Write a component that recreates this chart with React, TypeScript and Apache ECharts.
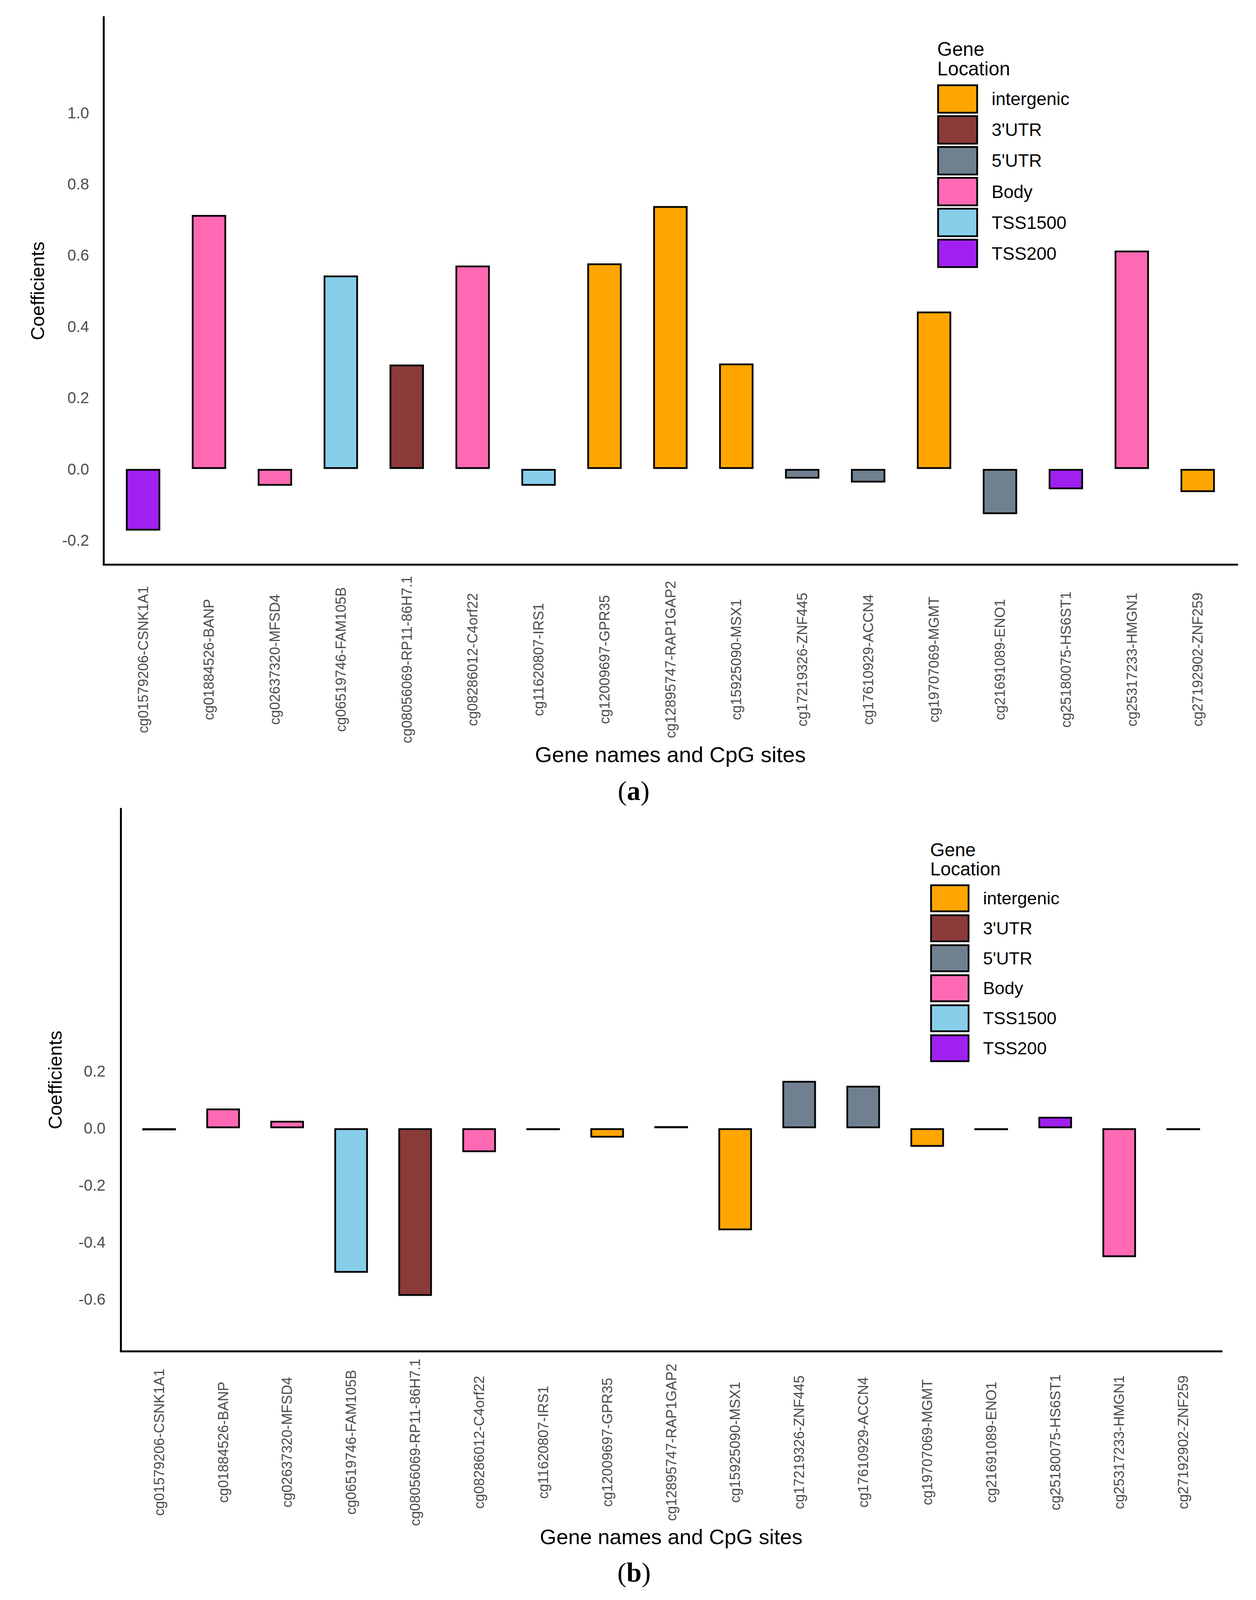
import React, { useEffect, useRef } from "react";
import * as echarts from "echarts";

// ---- data ----
const categories = [
  "cg01579206-CSNK1A1",
  "cg01884526-BANP",
  "cg02637320-MFSD4",
  "cg06519746-FAM105B",
  "cg08056069-RP11-86H7.1",
  "cg08286012-C4orf22",
  "cg11620807-IRS1",
  "cg12009697-GPR35",
  "cg12895747-RAP1GAP2",
  "cg15925090-MSX1",
  "cg17219326-ZNF445",
  "cg17610929-ACCN4",
  "cg19707069-MGMT",
  "cg21691089-ENO1",
  "cg25180075-HS6ST1",
  "cg25317233-HMGN1",
  "cg27192902-ZNF259",
];
const locationOf = [
  "TSS200", "Body", "Body", "TSS1500", "3'UTR", "Body", "TSS1500", "intergenic",
  "intergenic", "intergenic", "5'UTR", "5'UTR", "intergenic", "5'UTR", "TSS200",
  "Body", "intergenic",
];
const locations = ["intergenic", "3'UTR", "5'UTR", "Body", "TSS1500", "TSS200"];
const locationColors = ["#FFA500", "#8B3A3A", "#708090", "#FF69B4", "#87CEEB", "#A020F0"];

const coefA = [
  -0.173, 0.713, -0.047, 0.543, 0.293, 0.571, -0.047, 0.577, 0.738, 0.296,
  -0.027, -0.038, 0.442, -0.127, -0.057, 0.613, -0.065,
];
const coefB = [
  -0.0075, 0.069, 0.026, -0.507, -0.588, -0.084, -0.0025, -0.033, 0.0055, -0.358,
  0.166, 0.149, -0.065, -0.0045, 0.04, -0.452, -0.007,
];
const yTicksA = [-0.2, 0, 0.2, 0.4, 0.6, 0.8, 1.0];
const yTicksB = [-0.6, -0.4, -0.2, 0, 0.2];

const xPositions = categories.map((_, i) => i + 1);

const REF_W = 3215;
const REF_H = 5650;

const FONT = "Liberation Sans, Arial, Helvetica, sans-serif";
const SERIF = "Liberation Serif, Times New Roman, serif";

function buildSeries(coef: number[], panel: number, barWidth: number, barMinHeight: number) {
  return locations.map((loc, k) => ({
    type: "bar",
    name: loc,
    xAxisIndex: panel,
    yAxisIndex: panel,
    barWidth,
    barGap: "-100%",
    barMinHeight,
    itemStyle: { color: locationColors[k], borderColor: "#000", borderWidth: 4.5 },
    emphasis: { disabled: true },
    data: coef
      .map((v, i) => (locationOf[i] === loc ? [i + 1, v] : null))
      .filter((d) => d !== null),
  }));
}

function xAxisDef(gridIndex: number, margin: number, nameGap: number, labelSize: number, nameSize: number) {
  return {
    type: "value",
    gridIndex,
    min: 0.4,
    max: 17.6,
    splitLine: { show: false },
    axisTick: { show: false },
    axisLine: { show: true, onZero: false, lineStyle: { color: "#000", width: 5 } },
    axisLabel: {
      customValues: xPositions,
      formatter: (v: number) => categories[Math.round(v) - 1] ?? "",
      rotate: 90,
      align: "center",
      verticalAlign: "middle",
      margin,
      color: "#4D4D4D",
      fontSize: labelSize,
      fontFamily: FONT,
    },
    name: "Gene names and CpG sites",
    nameLocation: "middle",
    nameGap,
    nameMoveOverlap: false,
    nameTextStyle: { color: "#000", fontSize: nameSize, fontFamily: FONT },
  };
}

function yAxisDef(
  gridIndex: number,
  min: number,
  max: number,
  ticks: number[],
  margin: number,
  nameGap: number,
  labelSize: number,
  nameSize: number
) {
  return {
    type: "value",
    gridIndex,
    min,
    max,
    splitLine: { show: false },
    axisTick: { show: false },
    axisLine: { show: true, onZero: false, lineStyle: { color: "#000", width: 5 } },
    axisLabel: {
      customValues: ticks,
      formatter: (v: number) => v.toFixed(1),
      margin,
      color: "#4D4D4D",
      fontSize: labelSize,
      fontFamily: FONT,
    },
    name: "Coefficients",
    nameLocation: "middle",
    nameGap,
    nameMoveOverlap: false,
    nameTextStyle: { color: "#000", fontSize: nameSize, fontFamily: FONT },
  };
}

export default function App() {
  const ref = useRef<HTMLDivElement>(null);
  useEffect(() => {
    document.body.style.margin = "0";
    if (!ref.current) return;
    // the browser may cap the window height; fit the whole figure into the visible height
    const H = Math.min(window.innerHeight || REF_H, REF_H);
    const k = H / REF_H;
    const Y = (v: number) => v * k;
    const fs = Math.sqrt(k); // horizontal texts
    ref.current.style.height = `${H}px`;

    const chart = echarts.init(ref.current, undefined, { renderer: "svg" });

    // legend title fonts / line heights
    const tA = 58 * fs;
    const tB = 56 * fs;
    const lA = Math.max(tA, Y(68));
    const lB = Math.max(tB, Y(68));

    const xNameA = 66 * fs;
    const xNameB = 64 * fs;
    const yName = 67 * k;

    chart.setOption({
      animation: false,
      backgroundColor: "#fff",
      title: [
        {
          text: "Gene\nLocation",
          left: 2399,
          top: Y(149) - lA / 2 + 0.358 * tA,
          padding: 0,
          textStyle: { fontSize: tA, lineHeight: lA, fontWeight: "normal", color: "#000", fontFamily: FONT },
        },
        {
          text: "Gene\nLocation",
          left: 2381,
          top: Y(2977) - lB / 2 + 0.358 * tB,
          padding: 0,
          textStyle: { fontSize: tB, lineHeight: lB, fontWeight: "normal", color: "#000", fontFamily: FONT },
        },
      ],
      legend: [
        {
          data: locations,
          orient: "vertical",
          left: 2399,
          top: Y(298),
          padding: 0,
          icon: "rect",
          itemWidth: 100,
          itemHeight: Y(97),
          itemGap: Math.max(2, Y(109) - Y(97) - 4.5),
          selectedMode: false,
          itemStyle: { borderWidth: 4.5, borderColor: "#000" },
          textStyle: { fontSize: 54 * fs, color: "#000", fontFamily: FONT, padding: [0, 0, 0, 32] },
        },
        {
          data: locations,
          orient: "vertical",
          left: 2381,
          top: Y(3123),
          padding: 0,
          icon: "rect",
          itemWidth: 96,
          itemHeight: Y(92),
          itemGap: Math.max(2, Y(105.9) - Y(92) - 4.5),
          selectedMode: false,
          itemStyle: { borderWidth: 4.5, borderColor: "#000" },
          textStyle: { fontSize: 53 * fs, color: "#000", fontFamily: FONT, padding: [0, 0, 0, 32] },
        },
      ],
      grid: [
        { left: 265, right: REF_W - 3167, top: Y(60), height: Y(1934), containLabel: false, outerBoundsMode: "none" },
        { left: 309, right: REF_W - 3127, top: Y(2856), height: Y(1915), containLabel: false, outerBoundsMode: "none" },
      ],
      xAxis: [
        xAxisDef(0, Y(335), Y(2665) - Y(1994) - xNameA / 2, 50 * k, xNameA),
        xAxisDef(1, Y(322), Y(5428) - Y(4771) - xNameB / 2, 50 * k, xNameB),
      ],
      yAxis: [
        yAxisDef(0, -0.2687, 1.2687, yTicksA, 37, 265 - (92.5 + 0.365 * yName + 0.21 * yName), 47 * fs, yName),
        yAxisDef(1, -0.7815, 1.12, yTicksB, 39, 309 - (138 + 0.365 * yName + 0.21 * yName), 47 * fs, yName),
      ],
      series: [...buildSeries(coefA, 0, 88, 0), ...buildSeries(coefB, 1, 86, 7 * k)],
      graphic: [
        {
          type: "text",
          x: 1622,
          y: Y(2800) - 0.08 * 82 * fs,
          style: {
            text: "({b|a})",
            font: `${82 * fs}px ${SERIF}`,
            fill: "#000",
            align: "center",
            verticalAlign: "middle",
            rich: { b: { fontWeight: "bold", fontSize: 82 * fs, fontFamily: SERIF } },
          },
        },
        {
          type: "text",
          x: 1623,
          y: Y(5561) - 0.08 * 82 * fs,
          style: {
            text: "({b|b})",
            font: `${82 * fs}px ${SERIF}`,
            fill: "#000",
            align: "center",
            verticalAlign: "middle",
            rich: { b: { fontWeight: "bold", fontSize: 82 * fs, fontFamily: SERIF } },
          },
        },
      ],
    });
    return () => chart.dispose();
  }, []);
  return <div ref={ref} style={{ width: REF_W, height: REF_H }} />;
}
